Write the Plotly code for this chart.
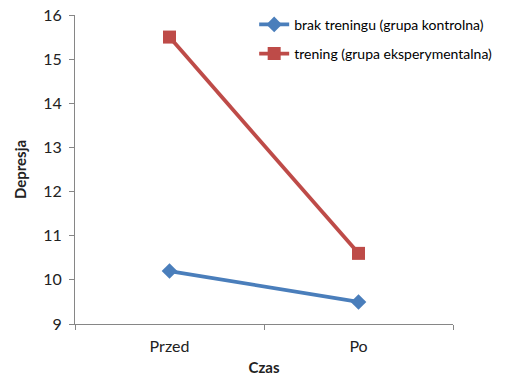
import plotly.graph_objects as go

categories = ["Przed", "Po"]
control = [10.2, 9.5]
training = [15.5, 10.6]
series_names = ["brak treningu (grupa kontrolna)", "trening (grupa eksperymentalna)"]

fig = go.Figure()
fig.add_trace(go.Scatter(x=categories, y=control, name=series_names[0], mode="lines+markers",
                         legendgroup="a",
                         line=dict(color="#4A7EBB", width=3.8),
                         marker=dict(symbol="diamond", size=12, color="#4A7EBB")))
fig.add_trace(go.Scatter(x=categories, y=training, name=series_names[1], mode="lines+markers",
                         legendgroup="b",
                         line=dict(color="#BE4B48", width=3.8),
                         marker=dict(symbol="square", size=13, color="#BE4B48")))

axis_col = "#868686"
fig.update_layout(
    width=519, height=383,
    margin=dict(l=75, r=66, t=15, b=59, autoexpand=False),
    paper_bgcolor="white", plot_bgcolor="white",
    font=dict(family="Lato, Open Sans, sans-serif", color="#333333"),
    showlegend=True,
    legend=dict(x=0.474, y=1.02, xanchor="left", yanchor="top",
                font=dict(size=14, color="#000000"), bgcolor="rgba(0,0,0,0)",
                traceorder="grouped", tracegroupgap=8, itemwidth=30),
    xaxis=dict(type="category", range=[-0.5, 1.5], showline=True, linecolor=axis_col,
               linewidth=1, ticks="outside", tickson="boundaries", ticklen=5,
               tickcolor=axis_col, showgrid=False, zeroline=False, ticklabelstandoff=8,
               tickfont=dict(size=16, color="#222222"),
               title=dict(text="<b>Czas</b>", font=dict(size=15, color="#222222"), standoff=8)),
    yaxis=dict(range=[9, 16], dtick=1, showline=True, linecolor=axis_col, linewidth=1,
               ticks="outside", ticklen=5, tickcolor=axis_col, showgrid=False, zeroline=False,
               ticklabelstandoff=4,
               tickfont=dict(size=16, color="#222222"),
               title=dict(text="<b>Depresja</b>", font=dict(size=15, color="#222222"), standoff=12)),
)

fig.write_html("out.html", config={"displayModeBar": False},
               post_script="document.body.style.margin='0px';")
